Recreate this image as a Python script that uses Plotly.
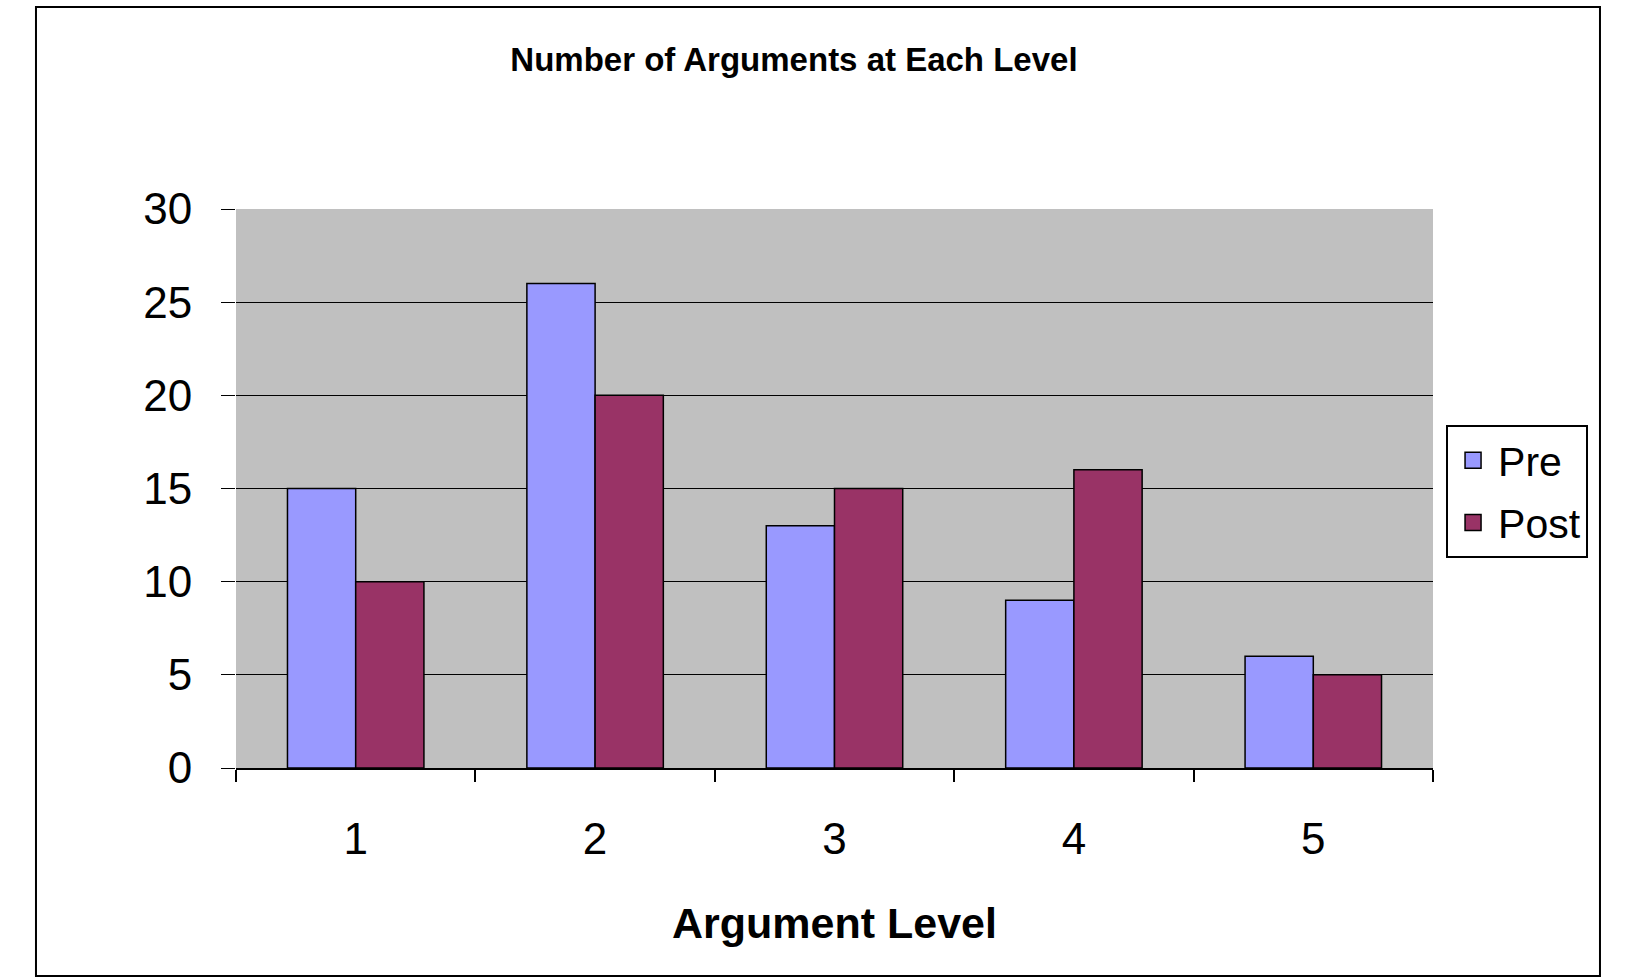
import plotly.graph_objects as go

# data
levels = ["1", "2", "3", "4", "5"]
pre_counts = [15, 26, 13, 9, 6]
post_counts = [10, 20, 15, 16, 5]

FONT = "Liberation Sans, Arial, sans-serif"
PRE_COLOR = "#9999FF"
POST_COLOR = "#993366"

fig = go.Figure()
fig.add_trace(go.Bar(x=levels, y=pre_counts, name="Pre", showlegend=False,
                     marker=dict(color=PRE_COLOR, line=dict(color="black", width=1.5))))
fig.add_trace(go.Bar(x=levels, y=post_counts, name="Post", showlegend=False,
                     marker=dict(color=POST_COLOR, line=dict(color="black", width=1.5))))

# legend entries with bigger square swatches (like the Excel legend)
for name, color in [("Pre", PRE_COLOR), ("Post", POST_COLOR)]:
    fig.add_trace(go.Scatter(x=[None], y=[None], mode="markers", name=name,
                             legendgroup=name,
                             marker=dict(symbol="square", size=24, color=color,
                                         line=dict(color="black", width=1.5))))

fig.update_layout(
    width=1629, height=978,
    margin=dict(l=236, r=196, t=209, b=210),
    paper_bgcolor="white",
    plot_bgcolor="#C0C0C0",
    barmode="group",
    bargap=0.43, bargroupgap=0,
    font=dict(family=FONT, color="black"),
    title=dict(text="<b>Number of Arguments at Each Level</b>",
               x=0.4874, xref="container", xanchor="center",
               y=0.9397, yref="container", yanchor="middle",
               font=dict(size=33, family=FONT, color="black")),
    legend=dict(x=1.0109, xanchor="left", y=0.6136, yanchor="top",
                bgcolor="white", bordercolor="black", borderwidth=2,
                itemwidth=40, traceorder="grouped", tracegroupgap=6,
                font=dict(size=41, family=FONT, color="black")),
)

fig.update_xaxes(
    showline=True, linecolor="black", linewidth=2,
    ticks="outside", tickson="boundaries", ticklen=12, tickwidth=1.5, tickcolor="black",
    tickfont=dict(size=44, family=FONT, color="black"),
    ticklabelstandoff=31,
    showgrid=False,
    title=dict(text="<b>Argument Level</b>", standoff=46,
               font=dict(size=43, family=FONT, color="black")),
)
fig.update_yaxes(
    range=[0, 30], dtick=5,
    showgrid=True, gridcolor="black", gridwidth=1,
    zeroline=False, showline=False,
    ticks="outside", ticklen=14, tickwidth=1, tickcolor="black",
    tickfont=dict(size=44, family=FONT, color="black"),
    ticklabelstandoff=20,
)

# outer chart border
fig.add_shape(type="rect", xref="paper", yref="paper",
              x0=-0.1671, x1=1.1395, y0=-0.3721, y1=1.3614,
              line=dict(color="black", width=2), fillcolor="rgba(0,0,0,0)")

# drop the default 8px page margin so the figure sits at the window corner
fig.write_html("out.html", config={"displayModeBar": False},
               post_script="document.body.style.margin='0';")
